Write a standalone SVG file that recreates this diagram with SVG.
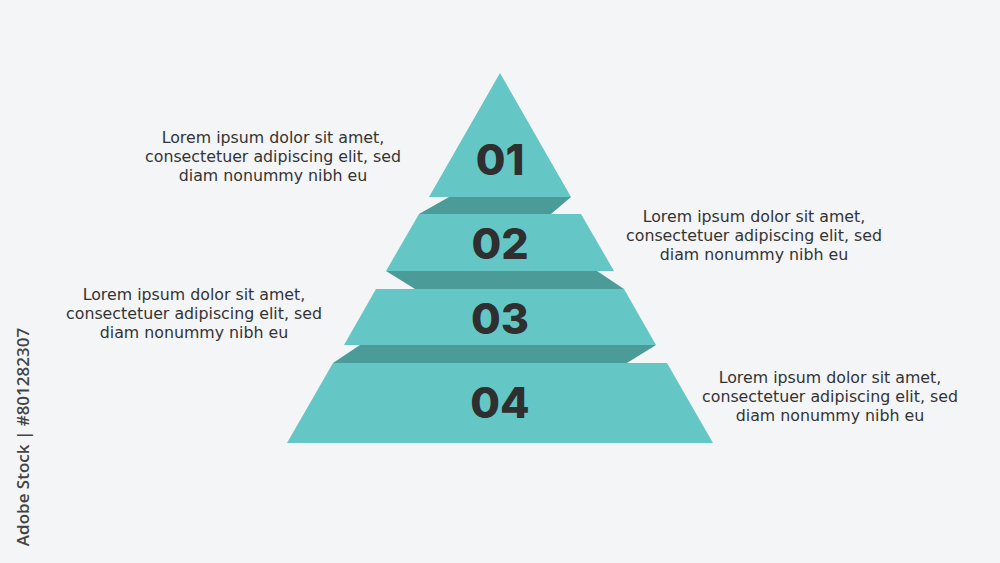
<svg xmlns="http://www.w3.org/2000/svg" width="1000" height="563" viewBox="0 0 1000 563">
<style>
.face{fill:#64c7c5}
.side{fill:#4b9c98}
.num{font-family:"Inter","Open Sans",sans-serif;font-weight:800;font-size:43px;fill:#2f2f2f;text-anchor:middle}
.desc{font-family:"DejaVu Sans","Open Sans",sans-serif;font-size:15.8px;fill:#333333;text-anchor:middle}
.wm{font-family:"Open Sans","Liberation Sans",sans-serif;font-weight:600;font-size:17px;fill:#444444;text-anchor:middle}
</style>
<rect width="1000" height="563" fill="#f4f5f7"/>
<g id="connectors">
<polygon class="side" points="449,197 571,197 551,214 419,214"/>
<polygon class="side" points="386,271 597,271 624,289 415,289"/>
<polygon class="side" points="360,345 656,345 627,363 333,363"/>
</g>
<g id="level1">
<polygon class="face" points="500,73 571,197 429,197"/>
<text class="num" x="500" y="175">01</text>
</g>
<g id="level2">
<polygon class="face" points="419,214 581,214 614,271 386,271"/>
<text class="num" x="500" y="259">02</text>
</g>
<g id="level3">
<polygon class="face" points="376,289 624,289 656,345 344,345"/>
<text class="num" x="500" y="334">03</text>
</g>
<g id="level4">
<polygon class="face" points="333,363 667,363 713,443 287,443"/>
<text class="num" x="500" y="418">04</text>
</g>
<g id="text1">
<text class="desc" x="273" y="143">Lorem ipsum dolor sit amet,</text>
<text class="desc" x="273" y="162">consectetuer adipiscing elit, sed</text>
<text class="desc" x="273" y="181">diam nonummy nibh eu</text>
</g>
<g id="text2">
<text class="desc" x="754" y="222">Lorem ipsum dolor sit amet,</text>
<text class="desc" x="754" y="241">consectetuer adipiscing elit, sed</text>
<text class="desc" x="754" y="260">diam nonummy nibh eu</text>
</g>
<g id="text3">
<text class="desc" x="194" y="300">Lorem ipsum dolor sit amet,</text>
<text class="desc" x="194" y="319">consectetuer adipiscing elit, sed</text>
<text class="desc" x="194" y="338">diam nonummy nibh eu</text>
</g>
<g id="text4">
<text class="desc" x="830" y="383">Lorem ipsum dolor sit amet,</text>
<text class="desc" x="830" y="402">consectetuer adipiscing elit, sed</text>
<text class="desc" x="830" y="421">diam nonummy nibh eu</text>
</g>
<text class="wm" transform="translate(29,437) rotate(-90)">Adobe Stock | #801282307</text>
</svg>
